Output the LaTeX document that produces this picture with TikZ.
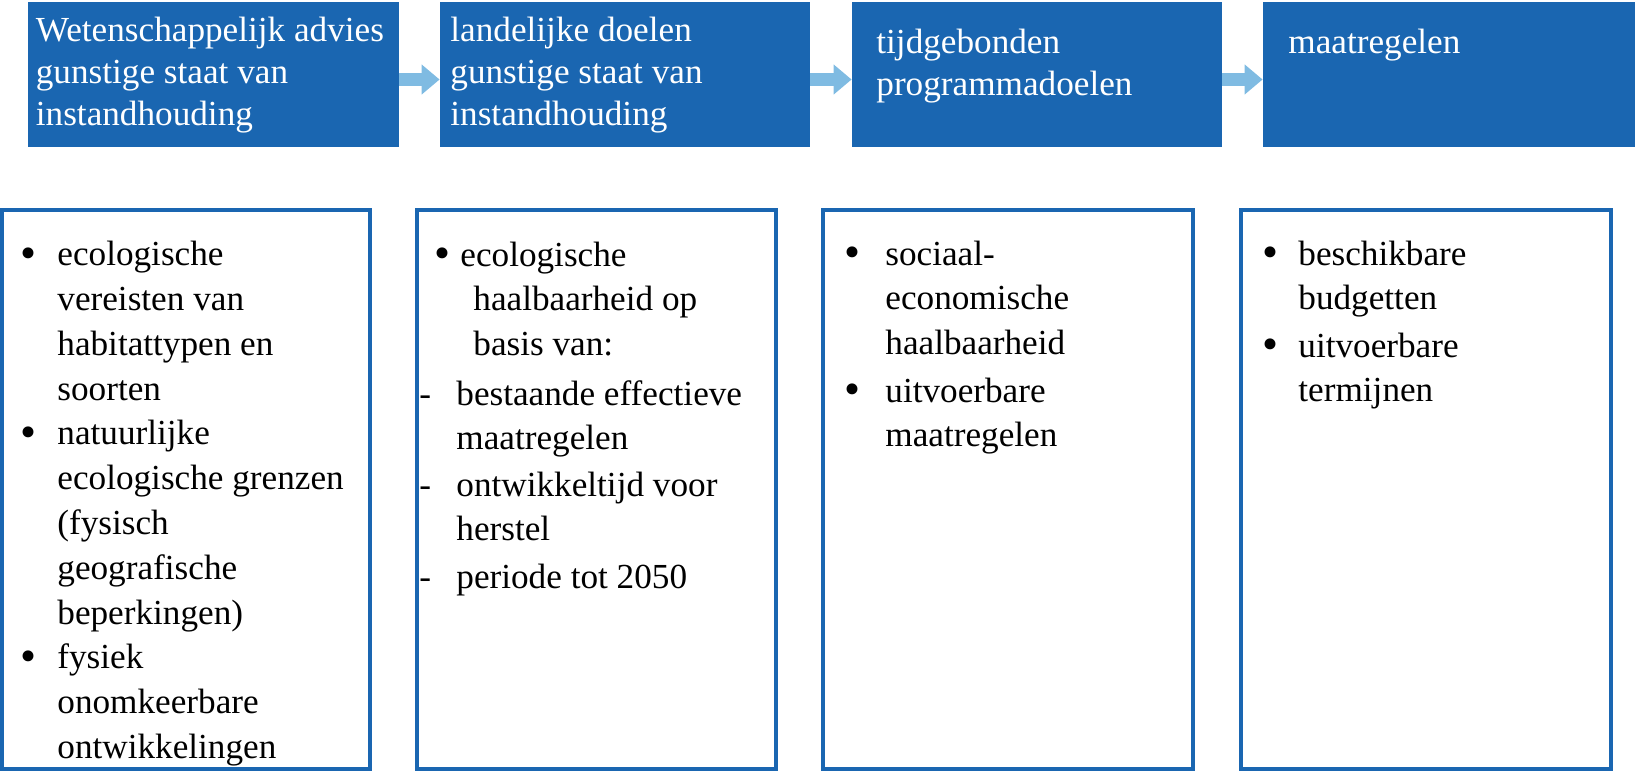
\documentclass[tikz,border=0pt]{standalone}
\usepackage{fontspec}
\setmainfont{Liberation Serif}
\usetikzlibrary{arrows.meta}
\definecolor{donkerblauw}{RGB}{26,102,177}
\definecolor{lichtblauw}{RGB}{127,187,226}
\newcommand{\dikpunt}{\raisebox{-1.2pt}{\scalebox{1.3}{\textbullet}}}

\begin{document}
\begin{tikzpicture}[x=0.5pt,y=-0.5pt,
blok/.style={rectangle,fill=donkerblauw,draw=none,minimum height=72.5pt},
kader/.style={rectangle,draw=donkerblauw,line width=2pt,minimum height=279.5pt},
koptekst/.style={inner sep=0pt,anchor=base west,align=left,text=white,font=\fontsize{17.6pt}{21pt}\selectfont},
lijsttekst/.style={inner sep=0pt,anchor=base west,align=left,font=\fontsize{17.6pt}{22.4pt}\selectfont},
punt/.style={lijsttekst,anchor=base},
pijl/.style={draw=lichtblauw,line width=6.5pt,-{Triangle[length=9pt,width=14.5pt]}}]

\useasboundingbox (0,0) rectangle (1635,772);

% bovenste rij (tekst staat op de basislijn van de laatste regel)
\node[blok,minimum width=185.25pt](advies) at (213.25,74.5){};
\node[blok,minimum width=185pt](landelijk) at (625,74.5){};
\node[blok,minimum width=185pt](tijd) at (1037,74.5){};
\node[blok,minimum width=186pt](maatr) at (1449,74.5){};

\node[koptekst](advies-t) at (35.5,125){Wetenschappelijk advies\\gunstige staat van\\instandhouding};
\node[koptekst](landelijk-t) at (450,125){landelijke doelen\\gunstige staat van\\instandhouding};
\node[koptekst](tijd-t) at (876,95){tijdgebonden\\programmadoelen};
\node[koptekst](maatr-t) at (1288,53){maatregelen};

\begin{scope}[pijl]
\draw ([yshift=-2.5pt]advies.east)--([yshift=-2.5pt]landelijk.west);
\draw ([yshift=-2.5pt]landelijk.east)--([yshift=-2.5pt]tijd.west);
\draw ([yshift=-2.5pt]tijd.east)--([yshift=-2.5pt]maatr.west);
\end{scope}

% onderste rij
\node[kader,minimum width=184.25pt](advies-lijst) at (185.75,489.5){};
\node[kader,minimum width=179.5pt](landelijk-lijst) at (596.5,489.5){};
\node[kader,minimum width=185.25pt](tijd-lijst) at (1007.75,489.5){};
\node[kader,minimum width=185pt](maatr-lijst) at (1426,489.5){};

\node[punt](a1) at (29,265.7){\dikpunt};
\node[lijsttekst](a1-t) at (57,400.1){ecologische\\vereisten van\\habitattypen en\\soorten};
\node[punt](a2) at (29,444.9){\dikpunt};
\node[lijsttekst](a2-t) at (57,624.1){natuurlijke\\ecologische grenzen\\(fysisch\\geografische\\beperkingen)};
\node[punt](a3) at (29,668.9){\dikpunt};
\node[lijsttekst](a3-t) at (57,758.5){fysiek\\onomkeerbare\\ontwikkelingen};

\node[punt](l1) at (443,266){\dikpunt};
\node[lijsttekst](l1-t) at (460,355.6){ecologische\\\hspace{6.5pt}haalbaarheid op\\\hspace{6.5pt}basis van:};
\node[lijsttekst](l2) at (419,405){-};
\node[lijsttekst](l2-t) at (456,449.8){bestaande effectieve\\maatregelen};
\node[lijsttekst](l3) at (419,496){-};
\node[lijsttekst](l3-t) at (456,540.8){ontwikkeltijd voor\\herstel};
\node[lijsttekst](l4) at (419,588){-};
\node[lijsttekst](l4-t) at (456,588){periode tot 2050};

\node[punt](t1) at (852.5,265){\dikpunt};
\node[lijsttekst](t1-t) at (885,354.6){sociaal-\\economische\\haalbaarheid};
\node[punt](t2) at (852.5,402){\dikpunt};
\node[lijsttekst](t2-t) at (885,446.8){uitvoerbare\\maatregelen};

\node[punt](m1) at (1270,265){\dikpunt};
\node[lijsttekst](m1-t) at (1298,309.8){beschikbare\\budgetten};
\node[punt](m2) at (1270,357){\dikpunt};
\node[lijsttekst](m2-t) at (1298,401.8){uitvoerbare\\termijnen};

\end{tikzpicture}
\end{document}
